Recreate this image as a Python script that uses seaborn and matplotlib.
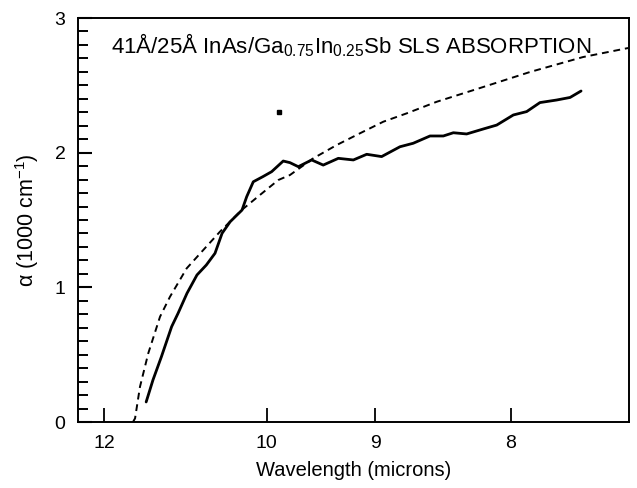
import numpy as np
import pandas as pd
import matplotlib
matplotlib.use("Agg")
import matplotlib.pyplot as plt
from matplotlib.ticker import MultipleLocator, NullLocator
import seaborn as sns

# measured absorption (solid) : wavelength in microns, alpha in 1000 cm^-1
meas_wl = [11.41, 11.32, 11.21, 11.08, 11.00, 10.89, 10.77, 10.66, 10.56, 10.48,
           10.39, 10.26, 10.21, 10.14, 10.04, 9.950, 9.834, 9.768, 9.687, 9.560,
           9.453, 9.317, 9.185, 9.071, 8.947, 8.799, 8.695, 8.567, 8.468, 8.395,
           8.300, 8.184, 8.093, 7.983, 7.897, 7.813, 7.710, 7.629, 7.564]
meas_alpha = [0.149, 0.312, 0.485, 0.708, 0.807, 0.956, 1.092, 1.166, 1.253, 1.401,
              1.487, 1.574, 1.673, 1.784, 1.822, 1.859, 1.938, 1.926, 1.896, 1.946,
              1.908, 1.958, 1.946, 1.988, 1.971, 2.044, 2.070, 2.124, 2.124, 2.148,
              2.139, 2.176, 2.205, 2.280, 2.305, 2.372, 2.391, 2.410, 2.458]

# calculated absorption (dashed)
calc_wl = [11.589, 11.56, 11.493, 11.382, 11.228, 11.101, 10.894, 10.696, 10.504, 10.264,
           10.070, 9.883, 9.768, 9.545, 9.331, 9.128, 8.933, 8.746, 8.517, 8.207,
           7.876, 7.553, 7.298]
calc_alpha = [0.0, 0.027, 0.262, 0.510, 0.782, 0.930, 1.141, 1.277, 1.413, 1.574,
              1.686, 1.797, 1.834, 1.958, 2.057, 2.144, 2.230, 2.292, 2.378, 2.480,
              2.599, 2.710, 2.777]

# stray dot in the scan
dot_wl = [9.877]
dot_alpha = [2.30]

tick_wl = [12, 10, 9, 8]
tick_labels = ["12", "10", "9", "8"]

HC = 1239.84  # meV * micron, axis is linear in photon energy


def to_energy(wl):
    return HC / np.asarray(wl, dtype=float)


meas = pd.DataFrame({"E": to_energy(meas_wl), "alpha": meas_alpha})
calc = pd.DataFrame({"E": to_energy(calc_wl), "alpha": calc_alpha})

sns.set_theme(style="ticks")
plt.rcParams.update({
    "font.family": ["Liberation Sans", "DejaVu Sans"],
    "mathtext.fontset": "custom",
    "mathtext.rm": "Liberation Sans",
    "mathtext.it": "Liberation Sans:italic",
    "text.color": "black",
    "axes.labelcolor": "black",
})

fig = plt.figure(figsize=(6.37, 4.88), dpi=100)
ax = fig.add_axes([0.1224, 0.1352, 0.8650, 0.8279])

sns.lineplot(data=calc, x="E", y="alpha", ax=ax, color="black", lw=1.4,
             linestyle=(0, (3.5, 2.5)), sort=False, estimator=None)
sns.lineplot(data=meas, x="E", y="alpha", ax=ax, color="black", lw=2.0,
             sort=False, estimator=None)
ax.plot(to_energy(dot_wl), dot_alpha, "s", color="black", ms=2.5)

ax.set_xlim(100, 170)
ax.set_ylim(0, 3)
ax.set_xticks(to_energy(tick_wl))
ax.set_xticklabels(tick_labels)
ax.xaxis.set_minor_locator(NullLocator())
ax.set_yticks([0, 1, 2, 3])
ax.yaxis.set_minor_locator(MultipleLocator(0.1))

ax.tick_params(axis="x", direction="in", length=10, width=1.3, labelsize=14,
               pad=9, colors="black")
ax.yaxis.set_tick_params(which="both", direction="in", left=True, right=False,
                         color="black")
ax.yaxis.set_tick_params(which="major", length=10, width=1.5, labelsize=14,
                         pad=9, labelcolor="black")
ax.yaxis.set_tick_params(which="minor", length=7, width=1.4)
for s in ax.spines.values():
    s.set_linewidth(1.4)
    s.set_color("black")

ax.set_xlabel("Wavelength (microns)", fontsize=14.5, labelpad=7)
ax.set_ylabel("α (1000 cm$^{-1}$)", fontsize=15.5, labelpad=10)

ax.text(0.06, 0.933, r"41Å/25Å InAs/Ga$_{0.75}$In$_{0.25}$Sb SLS ABSORPTION",
        transform=ax.transAxes, fontsize=16, ha="left", va="center")

fig.savefig("out.png", dpi=100)
